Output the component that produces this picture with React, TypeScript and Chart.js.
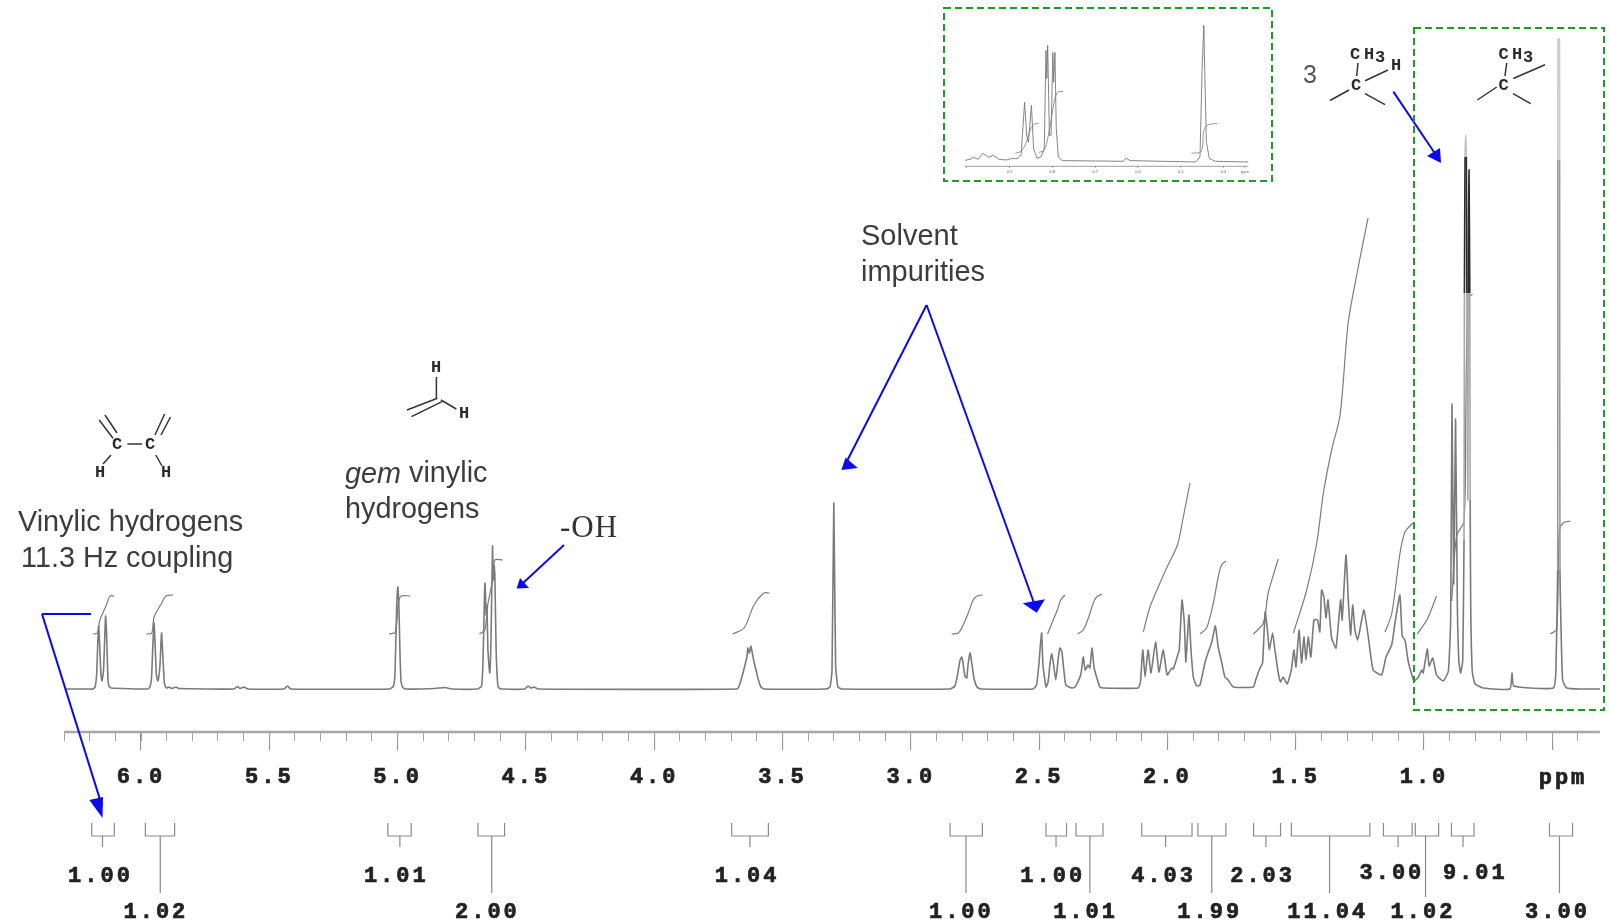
import React, { useEffect, useRef } from "react";
import { Chart, registerables } from "chart.js";

Chart.register(...registerables);

const spectrumPpm = [6.296,6.207,6.187,6.179,6.173,6.168,6.165,6.161,6.156,6.152,6.146,6.14,6.138,6.134,6.129,6.125,6.117,5.973,5.965,5.959,5.953,5.949,5.945,5.94,5.934,5.926,5.92,5.916,5.91,5.906,5.899,5.891,5.879,5.864,5.852,5.638,5.624,5.614,5.599,5.583,5.443,5.429,5.416,5.03,5.016,5.01,5.004,4.999,4.995,4.991,4.987,4.981,4.971,4.854,4.815,4.79,4.687,4.673,4.667,4.661,4.659,4.655,4.652,4.648,4.641,4.636,4.63,4.627,4.624,4.621,4.616,4.61,4.605,4.593,4.504,4.492,4.48,4.468,4.453,3.677,3.666,3.654,3.646,3.638,3.635,3.629,3.623,3.617,3.611,3.603,3.596,3.584,3.572,3.331,3.315,3.307,3.3,3.293,3.284,3.268,2.847,2.828,2.818,2.808,2.802,2.797,2.789,2.782,2.777,2.769,2.764,2.754,2.742,2.727,2.524,2.51,2.501,2.495,2.49,2.485,2.473,2.465,2.458,2.451,2.446,2.435,2.426,2.419,2.411,2.396,2.373,2.36,2.349,2.337,2.328,2.32,2.309,2.302,2.294,2.286,2.276,2.263,2.247,2.114,2.105,2.096,2.087,2.075,2.064,2.046,2.033,2.016,2.001,1.983,1.977,1.962,1.954,1.943,1.934,1.928,1.916,1.908,1.899,1.886,1.873,1.854,1.847,1.827,1.813,1.802,1.788,1.776,1.763,1.743,1.665,1.656,1.639,1.629,1.619,1.609,1.603,1.59,1.581,1.568,1.559,1.549,1.533,1.517,1.507,1.499,1.487,1.477,1.468,1.46,1.451,1.441,1.429,1.415,1.406,1.399,1.39,1.382,1.374,1.36,1.343,1.325,1.319,1.304,1.295,1.286,1.278,1.269,1.259,1.25,1.234,1.217,1.198,1.165,1.148,1.126,1.113,1.094,1.085,1.074,1.061,1.039,1.022,1.009,1.003,0.987,0.98,0.966,0.951,0.925,0.905,0.896,0.891,0.884,0.877,0.87,0.864,0.857,0.849,0.844,0.8425,0.84,0.837,0.835,0.833,0.831,0.829,0.8275,0.8265,0.8245,0.8215,0.82,0.818,0.812,0.801,0.769,0.665,0.657,0.65,0.496,0.486,0.479,0.4785,0.478,0.472,0.4715,0.47,0.46,0.444,0.392,0.314];
const spectrumIntensity = [1,1,1,3,15,50,64,45,15,9,20,62,74,55,12,4,2,1,3,12,50,67,45,15,9,25,57,40,10,4,2,3,1.5,3,1.5,1,3.5,1.5,3,1,1,4,1,1,4,18,80,103,85,40,10,3,1,1.5,2.5,1,1,4,30,100,107,75,85,40,17,50,144,110,125,115,40,6,2,1,1,4,2,3,1,1,6,17,25,34,42,37,44,36,28,20,12,3,1,1,3,20,187,25,3,1,1,4,15,30,33,28,14,12,25,37,30,12,3,1,1,5,25,45,57,25,3,8,25,36,30,10,30,42,38,5,2,3,8,16,33,20,25,22,42,23,13,3,2,2,8,40,13,40,17,48,18,40,15,22,21,33,40,90,67,28,75,40,13,4,5,27,33,48,64,43,27,13,10,3,3,10,22,27,78,57,40,57,40,17,8,13,6,20,40,23,60,27,53,30,53,33,70,70,58,100,93,72,90,52,42,90,70,135,90,55,85,60,50,60,80,53,20,15,33,45,67,95,54,50,28,9,13,20,17,41,24,32,15,9,19,71,286,106,271,85,28,17,30,150,397,533,555,533,397,300,190,397,470,520,397,190,85,19,6,2,1,17,4,2,19,120,530,651,651,530,120,10,2,1,1];

const integralCurvePpm = [
  [6.187,6.17,6.16,6.138,6.12,6.104],
  [5.979,5.958,5.949,5.919,5.903,5.875],
  [5.033,5.009,4.997,4.986,4.95],
  [4.681,4.66,4.65,4.63,4.621,4.59],
  [3.695,3.65,3.611,3.572,3.551],
  [2.841,2.815,2.796,2.776,2.757,2.741,2.72],
  [2.467,2.445,2.429,2.416,2.399],
  [2.35,2.328,2.308,2.289,2.276,2.254],
  [2.094,2.068,2.029,2.001,1.961,1.938,1.912],
  [1.873,1.847,1.821,1.802,1.789,1.772],
  [1.665,1.626,1.607,1.568],
  [1.509,1.457,1.418,1.392,1.36,1.327,1.296,1.263,1.218],
  [1.152,1.126,1.094,1.074,1.044],
  [1.026,0.987,0.951],
  [0.892,0.873,0.844,0.837,0.828,0.811],
  [0.507,0.483,0.473,0.458,0.429],
];
const integralCurveHeight = [
  [56,57,70,83,94,94],
  [56,57,73,87,94,95],
  [56,58,87,94,94],
  [56,60,83,110,130,130],
  [56,62,85,97,97],
  [56,57,65,77,90,94,95],
  [56,70,80,90,95],
  [56,60,72,87,93,96],
  [58,83,107,123,145,173,207],
  [56,62,87,113,125,129],
  [56,67,97,131],
  [57,100,147,197,240,275,366,414,472],
  [58,76,136,158,167],
  [56,71,94],
  [89,154,169,280,392,396],
  [56,61,158,167,169],
];

const integralLabels = ["1.00","1.02","1.01","2.00","1.04","1.00","1.00","1.01","4.03","1.99","2.03","11.04","3.00","1.02","9.01","3.00"];
const bracketLeft = [6.192,5.983,5.038,4.687,3.698,2.847,2.473,2.356,2.1,1.881,1.664,1.517,1.158,1.034,0.893,0.511];
const bracketRight = [6.104,5.869,4.947,4.583,3.555,2.721,2.393,2.251,1.904,1.772,1.559,1.211,1.046,0.943,0.805,0.421];
const bracketStem = [6.15,5.925,4.991,4.633,3.627,2.785,2.434,2.302,2.007,1.827,1.616,1.368,1.101,0.994,0.848,0.472];
const stemLow = [false,true,false,true,false,true,false,true,false,true,false,true,false,true,false,true];
const labelPpm = [6.158,5.942,5.005,4.65,3.638,2.803,2.447,2.319,2.015,1.835,1.629,1.375,1.125,1.004,0.8,0.48];

const majorTicks = [6.0,5.5,5.0,4.5,4.0,3.5,3.0,2.5,2.0,1.5,1.0,0.5];
const minorTicks = [6.3,6.2,6.1,6.0,5.9,5.8,5.7,5.6,5.5,5.4,5.3,5.2,5.1,5.0,4.9,4.8,4.7,4.6,4.5,4.4,4.3,4.2,4.1,4.0,3.9,3.8,3.7,3.6,3.5,3.4,3.3,3.2,3.1,3.0,2.9,2.8,2.7,2.6,2.5,2.4,2.3,2.2,2.1,2.0,1.9,1.8,1.7,1.6,1.5,1.4,1.3,1.2,1.1,1.0,0.9,0.8,0.7,0.6,0.5,0.4];
const axisEnds = [6.3,0.3145];

const insetPpm = [1.004,0.992,0.985,0.973,0.963,0.948,0.938,0.925,0.908,0.896,0.881,0.873,0.865,0.86,0.856,0.849,0.844,0.836,0.827,0.819,0.815,0.813,0.811,0.807,0.803,0.799,0.797,0.794,0.791,0.786,0.777,0.635,0.627,0.619,0.465,0.455,0.45,0.446,0.444,0.44,0.433,0.419,0.342];
const insetIntensity = [1,2,4,2,8,4,6,2,1.3,2.7,2.7,6.7,59,26,19,56,13,3,4.3,12.7,111,83,116,26,26,108.7,79,109,33,4.3,0.7,0,3.3,0.7,-0.7,4.3,93,136,93,19,2.7,0,-0.7];
const insetCurvePpm = [
  [0.887,0.873,0.862,0.852,0.843,0.832],
  [0.831,0.819,0.808,0.796,0.788,0.775],
  [0.475,0.452,0.446,0.438,0.415],
];
const insetCurveHeight = [
  [8,10,18,31,37,38],
  [9,11,29,59,69,70],
  [8,10,31,36,38],
];
const insetTicks = [1.0,0.9,0.8,0.7,0.6,0.5,0.4,0.35];
const insetTickLabels = ["","0.9","0.8","0.7","0.6","0.5","0.4","ppm"];
const insetAxisEnds = [1.004,0.342];

const WIDTH = 1609;
const HEIGHT = 922;
const MONO = "'Liberation Mono', monospace";
const SANS = "'Liberation Sans', Arial, sans-serif";
const SERIF = "'Liberation Serif', serif";
const BLUE = "#0a0af0";
const GREEN = "#1f9a2b";
const TRACE = "#7a7a7a";
const BLUR = "blur(0.6px)";

const arrowLines = [
  [42,614,91,614],[42,614,102,806],
  [564,545,522,584],
  [926.6,305,846,463],[926.6,305,1034,603],
  [1393.3,91.6,1436,155],
];
const arrowHeads = [
  [89.3,800,103,797,102.5,818],
  [520,578,529,588,516.6,588.5],
  [845.5,457.6,857.8,468,841.4,470],
  [1022.7,603.3,1045,599.3,1036.7,612.7],
  [1427,156,1440,148,1441,163],
];
const bondLines = [
  [127.4,444,142.2,444],[99.2,420,113,438.3],[105,415,117,433],[155,435,164.6,414],[161,435,170.5,417],[111,455,103,464],[155.7,455,162,466],
  [436.4,377,436.4,398],[441,400,456.3,409],[407,410,437.4,398.3],[411.5,416.7,442,401.7],
  [1358,63,1356.7,76],[1365,80.7,1388,70],[1365,93.7,1385,104.6],[1330,100.5,1349,90],
  [1506.7,63,1505,76],[1513.3,78.5,1545,64.7],[1513,93.7,1530.7,103.7],[1477.3,100,1496.7,87],
];
const atomLabels: [string, number, number][] = [
  ["C",117,445],["C",150,445],["H",100,473],["H",166,473],
  ["H",436,368],["H",464,414],
  ["C",1356,86],["C",1355,55],["H",1369,55],["3",1380,58],["H",1396,65.5],
  ["C",1503.5,86],["C",1503.5,55],["H",1517,55],["3",1528,58],
];
const noteLabels: [string, number, number, string][] = [
  ["Vinylic hydrogens",18,523.5,`28.8px ${SANS}`],
  ["11.3 Hz coupling",21,559.5,`28.8px ${SANS}`],
  ["hydrogens",345,510.5,`28.8px ${SANS}`],
  ["Solvent",861,237,`29px ${SANS}`],
  ["impurities",861,273,`29px ${SANS}`],
];

const trace = (xs: number[], ys: number[], color: string, width: number, extra: object = {}) => ({
  data: xs.map((x, i) => ({ x, y: ys[i] })),
  borderColor: color,
  borderWidth: width,
  pointRadius: 0,
  showLine: true,
  fill: false,
  ...extra,
});

// Shades the saturated parts of the tall methyl peaks the way the scan shows them.
const spikeShade = (ctx: any) => {
  const a = ctx.p0.parsed;
  const b = ctx.p1.parsed;
  const mean = (a.y + b.y) / 2;
  if (a.x < 0.5 && a.x > 0.46 && b.x < 0.5 && b.x > 0.46) {
    if (mean > 529) return "#cccccc";
    if (mean > 100) return "#9a9a9a";
  }
  if (a.x < 0.846 && a.x > 0.818 && b.x < 0.846 && b.x > 0.818) {
    if (mean > 540) return "#c4c4c4";
    if (mean > 397) return "#2a2a2a";
    if (mean > 190) return "#a8a8a8";
  }
  return undefined;
};

const annotationsPlugin = {
  id: "annotations",
  beforeDraw(chart: any) {
    chart.ctx.letterSpacing = "3px";
  },
  afterDraw(chart: any) {
    const ctx = chart.ctx;
    ctx.save();
    ctx.letterSpacing = "0px";
    ctx.textBaseline = "middle";
    ctx.textAlign = "left";
    ctx.fillStyle = "#3c3c3c";
    noteLabels.forEach(([t, x, y, f]) => {
      ctx.font = f;
      ctx.fillText(t, x, y);
    });
    ctx.font = `italic 28.8px ${SANS}`;
    ctx.fillText("gem", 345, 474.5);
    const gemW = ctx.measureText("gem ").width;
    ctx.font = `28.8px ${SANS}`;
    ctx.fillText("vinylic", 345 + gemW, 474.5);
    ctx.fillStyle = "#333";
    ctx.letterSpacing = "1px";
    ctx.font = `31px ${SERIF}`;
    ctx.fillText("-OH", 560, 529);
    ctx.letterSpacing = "0px";
    ctx.fillStyle = "#555";
    ctx.font = `25px ${SANS}`;
    ctx.fillText("3", 1303, 76);

    ctx.textAlign = "center";
    ctx.font = `bold 17px ${MONO}`;
    ctx.fillStyle = "#2a2a2a";
    atomLabels.forEach(([t, x, y]) => ctx.fillText(t, x, y));
    ctx.strokeStyle = "#333";
    ctx.lineWidth = 1.5;
    bondLines.forEach(([a, b, c, d]) => {
      ctx.beginPath(); ctx.moveTo(a, b); ctx.lineTo(c, d); ctx.stroke();
    });

    ctx.strokeStyle = BLUE;
    ctx.fillStyle = BLUE;
    ctx.lineWidth = 2;
    arrowLines.forEach(([a, b, c, d]) => {
      ctx.beginPath(); ctx.moveTo(a, b); ctx.lineTo(c, d); ctx.stroke();
    });
    arrowHeads.forEach(([a, b, c, d, e, f]) => {
      ctx.beginPath(); ctx.moveTo(a, b); ctx.lineTo(c, d); ctx.lineTo(e, f); ctx.closePath(); ctx.fill();
    });

    ctx.strokeStyle = GREEN;
    ctx.lineWidth = 2;
    ctx.setLineDash([7, 4]);
    ctx.strokeRect(944, 8, 328, 173);
    ctx.strokeRect(1414, 28, 190, 682);
    ctx.setLineDash([]);

    ctx.fillStyle = "#222";
    ctx.strokeStyle = "#222";
    ctx.lineWidth = 0.7;
    ctx.letterSpacing = "3px";
    ctx.font = `bold 22px ${MONO}`;
    ctx.fillText("ppm", 1563, 778);
    ctx.strokeText("ppm", 1563, 778);
    const x = chart.scales.x;
    const y = chart.scales.y;
    integralLabels.forEach((t, i) => {
      const row = stemLow[i] ? -222 : i === 12 || i === 14 ? -183.5 : -186;
      const px = x.getPixelForValue(labelPpm[i]);
      const py = y.getPixelForValue(row);
      ctx.fillText(t, px, py);
      ctx.strokeText(t, px, py);
    });
    ctx.restore();
  },
};

export default function App() {
  const mainRef = useRef<HTMLCanvasElement | null>(null);
  const insetRef = useRef<HTMLCanvasElement | null>(null);

  useEffect(() => {
    const datasets: any[] = [
      trace(spectrumPpm, spectrumIntensity, TRACE, 1.6, { tension: 0.15, segment: { borderColor: spikeShade } }),
      trace(axisEnds, [-42, -42], "#a8a8a8", 2.5),
    ];
    integralCurvePpm.forEach((xs, i) => {
      datasets.push(trace(xs, integralCurveHeight[i], "#7c7c7c", 1.2, { tension: 0.3 }));
    });
    integralLabels.forEach((_, i) => {
      datasets.push(trace(
        [bracketLeft[i], bracketLeft[i], bracketRight[i], bracketRight[i]],
        [-133, -146, -146, -133], "#8a8a8a", 1.2,
      ));
      datasets.push(trace(
        [bracketStem[i], bracketStem[i]],
        [-146, stemLow[i] ? (i === 13 ? -207 : -203) : -157], "#8a8a8a", 1.2,
      ));
    });

    const main = new Chart(mainRef.current as HTMLCanvasElement, {
      type: "scatter",
      data: { datasets },
      plugins: [annotationsPlugin],
      options: {
        responsive: false,
        animation: false,
        devicePixelRatio: 1,
        layout: { padding: 0 },
        plugins: { legend: { display: false }, tooltip: { enabled: false } },
        events: [],
        scales: {
          y: { type: "linear", min: -232, max: 690, display: false },
          x: {
            type: "linear",
            reverse: true,
            min: 0.279,
            max: 6.5495,
            position: { y: -42 },
            border: { display: false },
            grid: { drawOnChartArea: false, color: "#909090", lineWidth: 1.1, tickLength: 18 },
            afterBuildTicks: (s: any) => { s.ticks = majorTicks.map((value) => ({ value })); },
            ticks: {
              autoSkip: false,
              maxRotation: 0,
              padding: 14,
              color: "#222",
              textStrokeColor: "#222",
              textStrokeWidth: 0.7,
              font: { family: MONO, weight: "bold", size: 22 },
              callback: (v: any) => (v === 0.5 ? "" : Number(v).toFixed(1)),
            },
          },
          xMinor: {
            type: "linear",
            axis: "x",
            reverse: true,
            min: 0.279,
            max: 6.5495,
            position: { y: -42 },
            border: { display: false },
            grid: { drawOnChartArea: false, color: "#a0a0a0", lineWidth: 1, tickLength: 9 },
            afterBuildTicks: (s: any) => { s.ticks = minorTicks.map((value) => ({ value })); },
            ticks: { autoSkip: false, maxRotation: 0, callback: () => "" },
          },
        },
      } as any,
    } as any);

    const insetSets: any[] = [
      trace(insetPpm, insetIntensity, "#777", 0.9),
      trace(insetAxisEnds, [-5, -5], "#888", 0.8),
    ];
    insetCurvePpm.forEach((xs, i) => {
      insetSets.push(trace(xs, insetCurveHeight[i], "#777", 0.8, { tension: 0.3 }));
    });
    const inset = new Chart(insetRef.current as HTMLCanvasElement, {
      type: "scatter",
      data: { datasets: insetSets },
      options: {
        responsive: false,
        animation: false,
        devicePixelRatio: 1,
        layout: { padding: 0 },
        plugins: { legend: { display: false }, tooltip: { enabled: false } },
        events: [],
        scales: {
          y: { type: "linear", min: -18.7, max: 151.3, display: false },
          x: {
            type: "linear",
            reverse: true,
            min: 0.296,
            max: 1.044,
            position: { y: -5 },
            border: { display: false },
            grid: { drawOnChartArea: false, color: "#888", lineWidth: 0.7, tickLength: 2 },
            afterBuildTicks: (s: any) => { s.ticks = insetTicks.map((value) => ({ value })); },
            ticks: {
              autoSkip: false,
              maxRotation: 0,
              padding: 1,
              color: "#666",
              font: { family: SANS, size: 4 },
              callback: (v: any) => insetTickLabels[insetTicks.indexOf(v)] ?? "",
            },
          },
        },
      } as any,
    } as any);

    return () => {
      main.destroy();
      inset.destroy();
    };
  }, []);

  return (
    <div style={{ position: "absolute", left: 0, top: 0, width: WIDTH, height: HEIGHT, background: "#fff", overflow: "hidden" }}>
      <canvas ref={mainRef} width={WIDTH} height={HEIGHT} style={{ position: "absolute", left: 0, top: 0, filter: BLUR }} />
      <canvas ref={insetRef} width={320} height={170} style={{ position: "absolute", left: 948, top: 10, filter: BLUR }} />
    </div>
  );
}
